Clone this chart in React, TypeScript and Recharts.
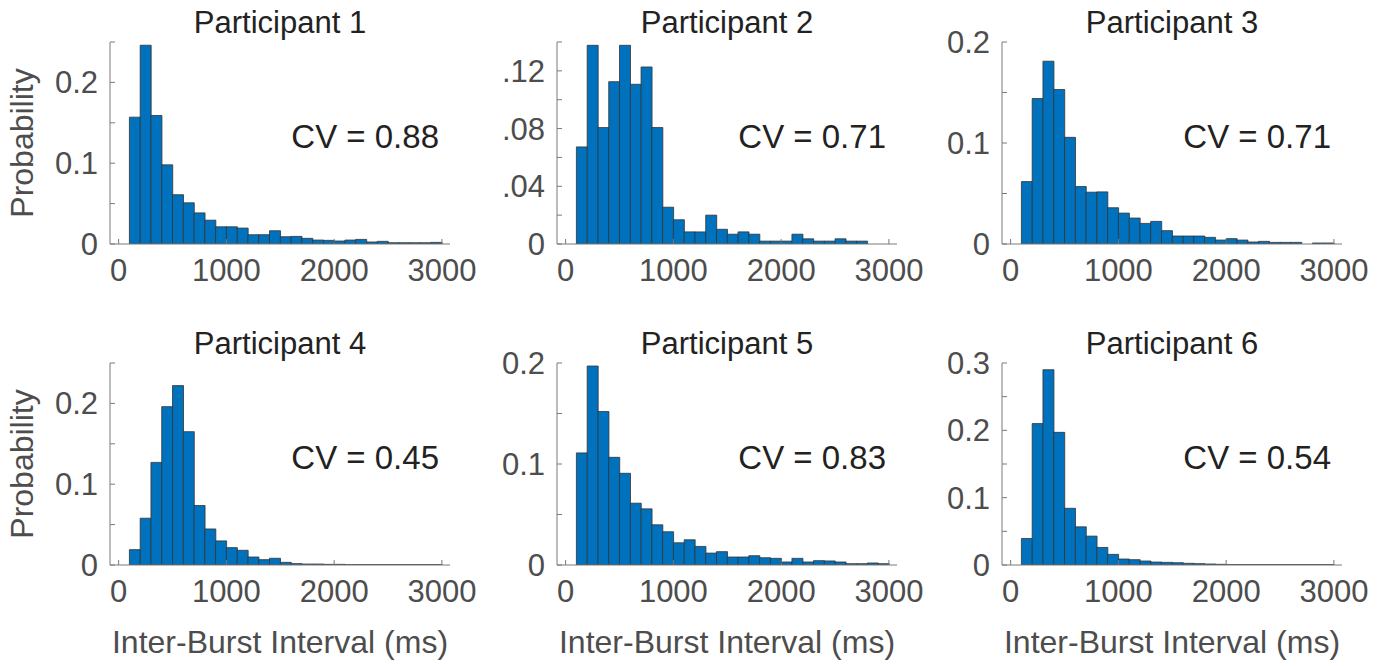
import React from 'react';
import { Bar, BarChart, XAxis, YAxis } from 'recharts';

// bin centres of the 100 ms wide histogram bins (100..3000 ms)
const binCenters = [
  150, 250, 350, 450, 550, 650, 750, 850, 950, 1050, 1150, 1250, 1350, 1450, 1550,
  1650, 1750, 1850, 1950, 2050, 2150, 2250, 2350, 2450, 2550, 2650, 2750, 2850, 2950,
];

const participant1 = [
  0.157, 0.246, 0.159, 0.098, 0.061, 0.051, 0.0385, 0.0295, 0.0213, 0.0213, 0.0197,
  0.0115, 0.0115, 0.0164, 0.009, 0.0094, 0.007, 0.0049, 0.0045, 0.0037, 0.0049, 0.0057,
  0.0025, 0.0033, 0.0016, 0.0016, 0.0016, 0.0016, 0.002,
];
const participant2 = [
  0.0673, 0.1377, 0.0807, 0.1125, 0.1377, 0.1107, 0.1227, 0.0807, 0.0255, 0.0168, 0.0084,
  0.0084, 0.02, 0.0102, 0.0068, 0.0084, 0.0068, 0.002, 0.002, 0.002, 0.0068, 0.0036,
  0.002, 0.002, 0.0036, 0.002, 0.002, 0, 0,
];
const participant3 = [
  0.0618, 0.144, 0.181, 0.153, 0.1056, 0.0569, 0.0513, 0.0516, 0.0359, 0.0306, 0.0257,
  0.0204, 0.0224, 0.0132, 0.0079, 0.0079, 0.0079, 0.0066, 0.0039, 0.0053, 0.0039, 0.002,
  0.0026, 0.0016, 0.0016, 0.0016, 0, 0.001, 0.001,
];
const participant4 = [
  0.019, 0.0579, 0.127, 0.196, 0.222, 0.165, 0.0736, 0.0446, 0.0298, 0.0215, 0.0182,
  0.0099, 0.0066, 0.0083, 0.0033, 0.0017, 0.0012, 0.0012, 0.0008, 0.0008, 0.0004, 0.0004,
  0.0004, 0.0004, 0.0004, 0.0004, 0.0004, 0.0004, 0.0004,
];
const participant5 = [
  0.111, 0.197, 0.152, 0.1066, 0.0908, 0.0612, 0.0556, 0.0398, 0.0329, 0.022, 0.025,
  0.0184, 0.0118, 0.0132, 0.0079, 0.0079, 0.0092, 0.0072, 0.0066, 0.003, 0.0066, 0.003,
  0.0043, 0.004, 0.003, 0.0013, 0.0013, 0.002, 0.0013,
];
const participant6 = [
  0.0394, 0.21, 0.29, 0.197, 0.0842, 0.0567, 0.0429, 0.0261, 0.0158, 0.0089, 0.0079,
  0.0059, 0.0044, 0.0039, 0.0034, 0.0025, 0.002, 0.0015, 0.001, 0.0006, 0.0005, 0.0005,
  0.0005, 0.0005, 0.0005, 0.0005, 0.0005, 0.0005, 0.0005,
];

const titles = [
  'Participant 1', 'Participant 2', 'Participant 3',
  'Participant 4', 'Participant 5', 'Participant 6',
];
const cvLabels = ['CV = 0.88', 'CV = 0.71', 'CV = 0.71', 'CV = 0.45', 'CV = 0.83', 'CV = 0.54'];

const xTicks = [0, 1000, 2000, 3000];

const yTicks25 = [0, 0.05, 0.1, 0.15, 0.2, 0.25];
const yLabels25 = ['0', '', '0.1', '', '0.2', ''];
const yTicks14 = [0, 0.02, 0.04, 0.06, 0.08, 0.1, 0.12, 0.14];
const yLabels14 = ['0', '', '.04', '', '.08', '', '.12', ''];
const yTicks20 = [0, 0.05, 0.1, 0.15, 0.2];
const yLabels20 = ['0', '', '0.1', '', '0.2'];
const yTicks30 = [0, 0.05, 0.1, 0.15, 0.2, 0.25, 0.3];
const yLabels30 = ['0', '', '0.1', '', '0.2', '', '0.3'];

const FONT = '"Liberation Sans", Arial, Helvetica, sans-serif';
const AXIS = '#7a7a7a';
const TICK_TEXT = '#4d4d4d';
const DARK_TEXT = '#222222';
const BAR_FILL = '#0072BD';

const X_MIN = -80;
const X_MAX = 3075;
const PLOT_W = 340;
const PLOT_H = 202;
const LEFT = 110;
const TOP = 42;
const pxPerMs = PLOT_W / (X_MAX - X_MIN);

function YTick(props: any) {
  const { x, y, index, labels } = props;
  const axisX = x + 12;
  return (
    <g>
      <line x1={axisX} x2={axisX + 5} y1={y} y2={y} stroke={AXIS} />
      {labels[index] ? (
        <text x={x} y={y + 11} textAnchor="end" fill={TICK_TEXT} fontSize={31} fontFamily={FONT}>
          {labels[index]}
        </text>
      ) : null}
    </g>
  );
}

function XTick(props: any) {
  const { x, y, payload } = props;
  return (
    <g>
      <line x1={x} x2={x} y1={y} y2={y - 5} stroke={AXIS} />
      <text x={x} y={y + 37} textAnchor="middle" fill={TICK_TEXT} fontSize={31} fontFamily={FONT}>
        {payload.value}
      </text>
    </g>
  );
}

interface PanelProps {
  title: string;
  cv: string;
  values: number[];
  yMax: number;
  yTicks: number[];
  yLabels: string[];
  left: number;
  top: number;
  showYLabel: boolean;
  showXLabel: boolean;
}

function Panel({ title, cv, values, yMax, yTicks, yLabels, left, top, showYLabel, showXLabel }: PanelProps) {
  const rows = binCenters.map((mid, i) => ({ mid, bin: String(mid), p: values[i] }));
  const bottom = showXLabel ? 100 : 70;
  const height = TOP + PLOT_H + bottom;
  const cx = LEFT + PLOT_W / 2;
  return (
    <div style={{ position: 'absolute', left, top }}>
      <BarChart
        width={500}
        height={height}
        data={rows}
        margin={{ top: TOP, right: 50, bottom: 0, left: 0 }}
        barCategoryGap={0}
        barGap={0}
      >
        <XAxis
          xAxisId="ms"
          dataKey="mid"
          type="number"
          domain={[X_MIN, X_MAX]}
          allowDataOverflow
          ticks={xTicks}
          interval={0}
          height={bottom}
          tickSize={0}
          tickMargin={0}
          tickLine={false}
          axisLine={{ stroke: AXIS }}
          tick={<XTick />}
        />
        <XAxis
          xAxisId="bins"
          dataKey="bin"
          type="category"
          hide
          height={0}
          padding={{ left: (150 - 50 - X_MIN) * pxPerMs, right: (X_MAX - 3000) * pxPerMs }}
        />
        <YAxis
          type="number"
          domain={[0, yMax]}
          allowDataOverflow
          ticks={yTicks}
          interval={0}
          width={LEFT}
          tickSize={0}
          tickMargin={12}
          tickLine={false}
          axisLine={{ stroke: AXIS }}
          tick={<YTick labels={yLabels} />}
        />
        <Bar
          xAxisId="bins"
          dataKey="p"
          fill={BAR_FILL}
          stroke="#333333"
          strokeWidth={0.8}
          isAnimationActive={false}
        />
        <text x={cx} y={TOP - 9} textAnchor="middle" fill={DARK_TEXT} fontSize={31} fontFamily={FONT}>
          {title}
        </text>
        <text x={LEFT + 329} y={TOP + 106} textAnchor="end" fill={DARK_TEXT} fontSize={33} fontFamily={FONT}>
          {cv}
        </text>
        {showYLabel ? (
          <text
            x={33}
            y={TOP + PLOT_H / 2}
            transform={`rotate(-90, 33, ${TOP + PLOT_H / 2})`}
            textAnchor="middle"
            fill={TICK_TEXT}
            fontSize={32}
            fontFamily={FONT}
          >
            Probability
          </text>
        ) : null}
        {showXLabel ? (
          <text x={cx} y={TOP + PLOT_H + 88} textAnchor="middle" fill={TICK_TEXT} fontSize={32} fontFamily={FONT}>
            Inter-Burst Interval (ms)
          </text>
        ) : null}
      </BarChart>
    </div>
  );
}

export default function App() {
  const lefts = [0, 447, 892];
  const tops = [0, 321];
  const series = [participant1, participant2, participant3, participant4, participant5, participant6];
  const yMaxes = [0.25, 0.14, 0.2, 0.25, 0.2, 0.3];
  const yTickSets = [yTicks25, yTicks14, yTicks20, yTicks25, yTicks20, yTicks30];
  const yLabelSets = [yLabels25, yLabels14, yLabels20, yLabels25, yLabels20, yLabels30];
  return (
    <div style={{ position: 'absolute', left: 0, top: 0, width: 1392, height: 666, background: '#ffffff' }}>
      {series.map((values, i) => (
        <Panel
          key={titles[i]}
          title={titles[i]}
          cv={cvLabels[i]}
          values={values}
          yMax={yMaxes[i]}
          yTicks={yTickSets[i]}
          yLabels={yLabelSets[i]}
          left={lefts[i % 3]}
          top={tops[Math.floor(i / 3)]}
          showYLabel={i % 3 === 0}
          showXLabel={i >= 3}
        />
      ))}
    </div>
  );
}
